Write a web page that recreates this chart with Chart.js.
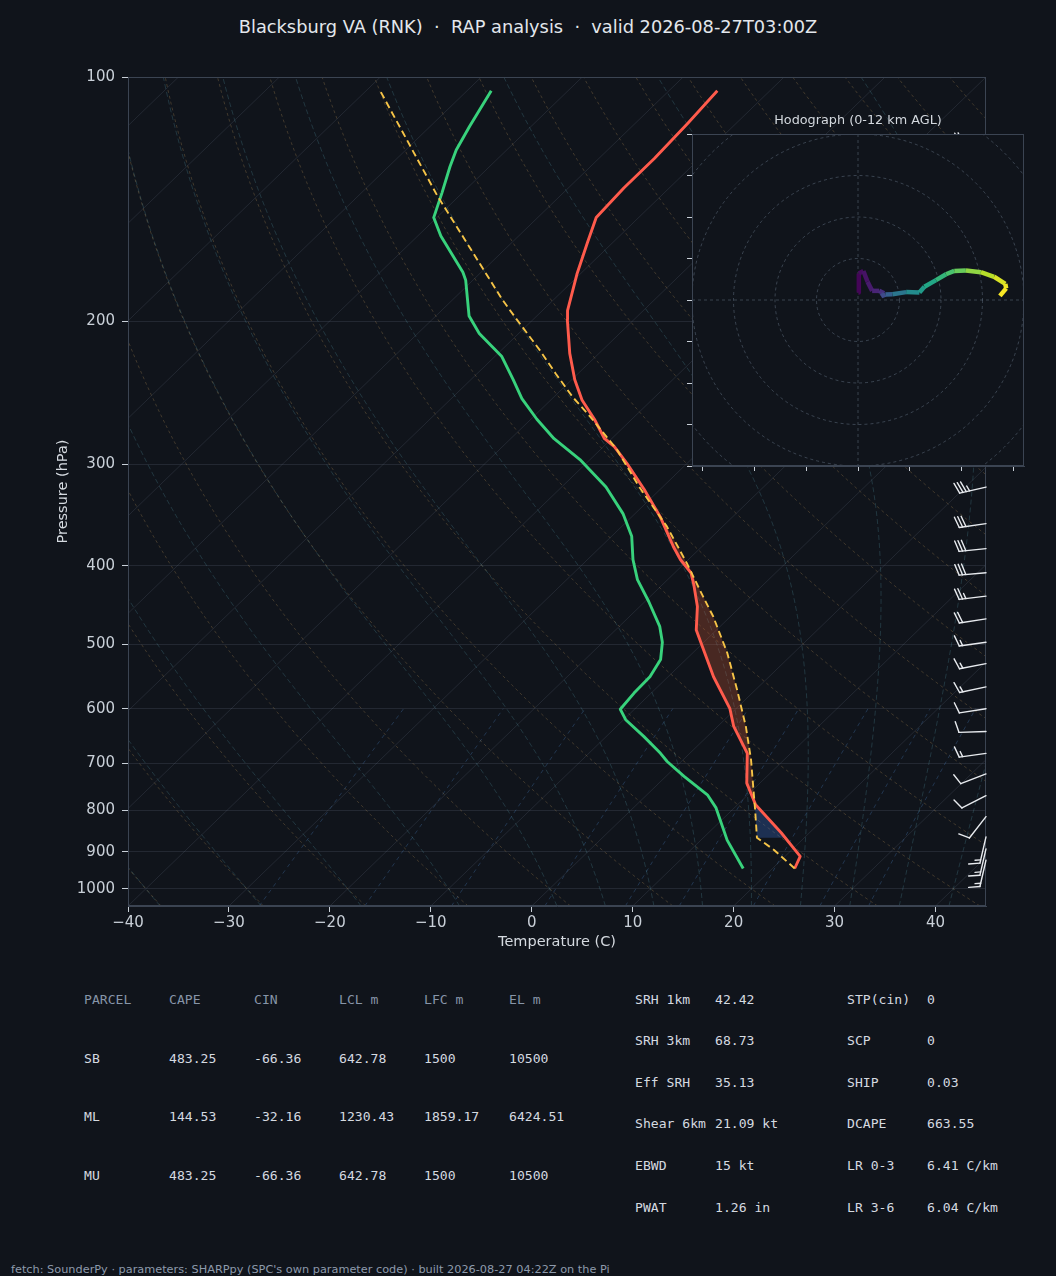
<!DOCTYPE html>
<html><head><meta charset="utf-8"><title>Skew-T Blacksburg VA</title>
<script src="https://cdn.jsdelivr.net/npm/chart.js@4.4.1/dist/chart.umd.min.js"></script>
<style>
html,body{margin:0;padding:0;background:#10141b;}
body{width:1056px;height:1276px;position:relative;overflow:hidden;font-family:"DejaVu Sans",sans-serif;}
canvas{position:absolute;display:block;}
.tx{position:absolute;white-space:pre;line-height:16px;}
.mono{font-family:"DejaVu Sans Mono",monospace;font-size:13.1px;color:#d5dae0;}
.hdr{color:#8795a8;}
</style></head><body>
<div class="tx" style="left:0;top:16px;width:1056px;text-align:center;font-size:17.8px;line-height:22px;color:#e3e7ec">Blacksburg VA (RNK)  ·  RAP analysis  ·  valid 2026-08-27T03:00Z</div>
<canvas id="skew" width="1056" height="960" style="left:0;top:0"></canvas>
<canvas id="hodo" width="372" height="356" style="left:672px;top:124px"></canvas>
<div class="tx" style="left:672px;width:372px;top:112px;text-align:center;font-size:12.8px;color:#d3d8de">Hodograph (0-12 km AGL)</div>
<div id="tables"></div>
<div class="tx" style="left:11px;top:1263px;font-size:11.3px;line-height:14px;color:#8d9aab">fetch: SounderPy · parameters: SHARPpy (SPC's own parameter code) · built 2026-08-27 04:22Z on the Pi</div>
<script>
// ---------------- data ----------------
const XMIN = -40, XMAX = 45, PTOP = 100, PBOT = 1050;
const xTicks = [-40, -30, -20, -10, 0, 10, 20, 30, 40];
const pTicks = [100, 200, 300, 400, 500, 600, 700, 800, 900, 1000];

const tempP = [944, 912, 853, 788, 741, 681, 631, 600, 548, 480, 449, 422, 408, 393, 379, 348, 322, 299, 285, 279, 264, 250, 236, 219, 199, 194, 175, 160, 149, 137, 126, 114, 104];
const tempT = [22.2, 21.5, 17.2, 11.8, 8.7, 5.7, 1.6, -0.6, -5.5, -12.0, -14.3, -16.9, -18.4, -20.8, -22.8, -27.2, -31.6, -36.0, -39.0, -40.7, -43.7, -46.9, -49.7, -52.9, -56.6, -57.5, -60.3, -62.5, -64.2, -64.5, -64.5, -64.8, -65.2];

const dewP = [944, 871, 795, 766, 727, 697, 681, 649, 619, 601, 574, 548, 522, 497, 475, 443, 416, 393, 368, 345, 320, 296, 279, 264, 249, 236, 221, 207, 197, 178, 174, 157, 149, 139, 129, 123, 115, 104];
const dewT = [17.1, 12.6, 8.2, 6.0, 1.8, -1.4, -2.9, -6.3, -9.8, -11.4, -11.7, -11.8, -12.5, -14.1, -16.0, -19.6, -23.0, -25.5, -28.0, -31.2, -35.6, -41.0, -45.7, -49.4, -53.0, -55.8, -59.3, -63.9, -66.7, -70.7, -71.8, -77.7, -80.3, -82.0, -83.9, -85.0, -86.1, -87.6];

const parcelP = [944, 895, 865, 800, 762, 693, 631, 569, 512, 462, 437, 397, 358, 320, 288, 262, 248, 232, 217, 199, 188, 140, 104];
const parcelT = [22.2, 18.2, 15.3, 12.3, 10.4, 6.7, 2.8, -1.8, -6.6, -11.7, -14.7, -19.8, -25.5, -32.3, -38.3, -44.4, -48.1, -52.2, -56.2, -61.6, -65.1, -82.2, -98.6];

const cinLayer = [865, 760];    // hPa: bottom, top of CIN shading
const capeLayer = [790, 250];   // hPa: bottom, top of CAPE shading

const barbP   = [120, 134, 147, 162, 178, 196, 216, 238, 262, 290, 320, 355, 381, 408, 436, 465, 497, 528, 564, 600, 640, 681, 722, 768, 815, 863, 893, 922];
const barbDir = [265, 265, 265, 264, 262, 260, 260, 258, 258, 257, 257, 262, 264, 265, 263, 261, 262, 259, 258, 261, 268, 262, 249, 243, 218, 193, 193, 193];
const barbSpd = [20, 20, 25, 25, 30, 35, 35, 35, 35, 35, 35, 30, 30, 30, 25, 20, 15, 15, 15, 10, 10, 15, 10, 10, 10, 15, 15, 15];

const hodoH = [0, 0.25, 0.5, 0.75, 1.0, 1.4, 1.8, 2.4, 3.0, 4.2, 5.2, 6.2, 6.7, 7.5, 8.2, 8.8, 9.6, 10.4, 11.0, 11.6, 11.8, 12.0];
const hodoU = [0.1, 0.2, 1.3, 2.3, 3.4, 5.1, 6.3, 5.6, 6.6, 8.3, 11.6, 14.8, 16.0, 18.8, 21.2, 23.2, 26.0, 29.6, 32.8, 35.5, 35.7, 34.2];
const hodoV = [1.8, 6.4, 7.0, 4.4, 2.2, 2.2, 1.6, 0.9, 1.3, 1.4, 1.9, 1.8, 3.2, 4.8, 6.2, 7.0, 7.1, 6.7, 5.6, 3.9, 2.8, 1.0];
const hodoXTicks = [-37.5, -25, -12.5, 0, 12.5, 25, 37.5];
const hodoYTicks = [-40, -30, -20, -10, 0, 10, 20, 30, 40];
const hodoRings = [10, 20, 30, 40, 50];

const dryT0 = []; for (let t = -40; t <= 240; t += 10) dryT0.push(t);
const moistT0 = [-40, -30, -20, -10, 0, 5, 10, 15, 20, 25, 30, 35, 40, 45];
const mixW = [0.0004, 0.001, 0.002, 0.004, 0.007, 0.01, 0.016, 0.024, 0.032];

const parcelRows = [
  ['PARCEL', 'CAPE', 'CIN', 'LCL m', 'LFC m', 'EL m'],
  ['SB', '483.25', '-66.36', '642.78', '1500', '10500'],
  ['ML', '144.53', '-32.16', '1230.43', '1859.17', '6424.51'],
  ['MU', '483.25', '-66.36', '642.78', '1500', '10500']
];
const paramRows = [
  ['SRH 1km', '42.42', 'STP(cin)', '0'],
  ['SRH 3km', '68.73', 'SCP', '0'],
  ['Eff SRH', '35.13', 'SHIP', '0.03'],
  ['Shear 6km', '21.09 kt', 'DCAPE', '663.55'],
  ['EBWD', '15 kt', 'LR 0-3', '6.41 C/km'],
  ['PWAT', '1.26 in', 'LR 3-6', '6.04 C/km']
];

// ---------------- styles / helpers ----------------
const BG = '#10141b';
const TICKC = '#c9d0d8';
const SPINE = '#3b4452';
const LNR = Math.log(PBOT / PTOP);
function skew(T, p) { return T + (XMAX - XMIN) * Math.log(PBOT / p) / LNR; }
function pts(P, T) { return P.map((p, i) => ({x: skew(T[i], p), y: p})); }
function interp(P, T, p) {
  if (p >= P[0]) return T[0];
  for (let i = 0; i < P.length - 1; i++) {
    if (p <= P[i] && p >= P[i + 1]) {
      const f = Math.log(p / P[i]) / Math.log(P[i + 1] / P[i]);
      return T[i] + f * (T[i + 1] - T[i]);
    }
  }
  return T[T.length - 1];
}
const bgP = []; for (let i = 0; i <= 60; i++) bgP.push(PBOT * Math.pow(PTOP / PBOT, i / 60));

const Rd = 287.04749, Lv = 2.50084e6, Cp = 1004.6662, EPS = 0.621957;
function esat(TK) { return 6.112 * Math.exp(17.67 * (TK - 273.15) / (TK - 29.65)); }
function dTdp(p, T) {
  const e = esat(T), rs = EPS * e / (p - e);
  return ((Rd * T + Lv * rs) / (Cp + Lv * Lv * rs * EPS / (Rd * T * T))) / p;
}
function moistAt(t0C, p) {
  let T = t0C + 273.15, pc = 1000;
  const n = Math.max(1, Math.ceil(Math.abs(Math.log(p / 1000)) / 0.02));
  const h = (p - 1000) / n;
  for (let k = 0; k < n; k++) {
    const k1 = dTdp(pc, T), k2 = dTdp(pc + h / 2, T + h / 2 * k1), k3 = dTdp(pc + h / 2, T + h / 2 * k2), k4 = dTdp(pc + h, T + h * k3);
    T += h / 6 * (k1 + 2 * k2 + 2 * k3 + k4); pc += h;
  }
  return T - 273.15;
}

const line = (o) => Object.assign({showLine: true, pointRadius: 0, pointHoverRadius: 0, fill: false, tension: 0, borderJoinStyle: 'round'}, o);
const datasets = [];
datasets.push(line({label: 'Parcel', data: pts(parcelP, parcelT), borderColor: '#f6c447', borderWidth: 1.9, borderDash: [7, 4]}));
datasets.push(line({label: 'Temperature', data: pts(tempP, tempT), borderColor: '#ff5b4c', borderWidth: 2.9}));
datasets.push(line({label: 'Dewpoint', data: pts(dewP, dewT), borderColor: '#38d27c', borderWidth: 2.9}));
// isotherms (skewed grid)
for (let t = -130; t <= 40; t += 10) {
  datasets.push(line({data: [{x: skew(t, PBOT), y: PBOT}, {x: skew(t, PTOP), y: PTOP}], borderColor: 'rgba(130,145,165,0.17)', borderWidth: 1}));
}
dryT0.forEach(t0 => {
  datasets.push(line({data: bgP.map(p => ({x: skew((t0 + 273.15) * Math.pow(p / 1000, 0.28571) - 273.15, p), y: p})), borderColor: 'rgba(190,150,90,0.32)', borderWidth: 0.9, borderDash: [3, 3]}));
});
moistT0.forEach(t0 => {
  datasets.push(line({data: bgP.map(p => ({x: skew(moistAt(t0, p), p), y: p})), borderColor: 'rgba(90,160,180,0.28)', borderWidth: 0.9, borderDash: [5, 3]}));
});
const mixP = []; for (let i = 0; i <= 12; i++) mixP.push(PBOT - i * (PBOT - 600) / 12);
mixW.forEach(w => {
  datasets.push(line({data: mixP.map(p => { const e = p * w / (EPS + w), l = Math.log(e / 6.112); return {x: skew(243.5 * l / (17.67 - l), p), y: p}; }), borderColor: 'rgba(80,140,210,0.32)', borderWidth: 0.9, borderDash: [4, 4]}));
});

function shade(chart, layer, leftFn, rightFn, color) {
  const {ctx, chartArea: a, scales: {x, y}} = chart;
  const N = 90, up = [], dn = [];
  for (let k = 0; k <= N; k++) {
    const p = layer[0] * Math.pow(layer[1] / layer[0], k / N);
    const te = interp(tempP, tempT, p), tp = interp(parcelP, parcelT, p);
    up.push([p, rightFn(te, tp)]); dn.push([p, leftFn(te, tp)]);
  }
  ctx.save();
  ctx.beginPath(); ctx.rect(a.left, a.top, a.right - a.left, a.bottom - a.top); ctx.clip();
  ctx.beginPath();
  up.forEach(([p, t], i) => { const X = x.getPixelForValue(skew(t, p)), Y = y.getPixelForValue(p); i ? ctx.lineTo(X, Y) : ctx.moveTo(X, Y); });
  for (let i = dn.length - 1; i >= 0; i--) { const [p, t] = dn[i]; ctx.lineTo(x.getPixelForValue(skew(t, p)), y.getPixelForValue(p)); }
  ctx.closePath(); ctx.fillStyle = color; ctx.fill();
  ctx.restore();
}

const skewPlugin = {
  id: 'skewDeco',
  beforeDatasetDraw(chart, args) {
    if (args.index !== 2) return;
    shade(chart, capeLayer, (te, tp) => te, (te, tp) => Math.max(te, tp), 'rgba(220,95,55,0.28)');
    shade(chart, cinLayer, (te, tp) => tp, (te, tp) => Math.max(te, tp), 'rgba(60,110,200,0.32)');
  },
  afterDatasetsDraw(chart) {
    const {ctx, chartArea: a, scales: {y}} = chart;
    ctx.save();
    ctx.strokeStyle = SPINE; ctx.lineWidth = 1;
    ctx.strokeRect(a.left + 0.5, a.top + 0.5, a.right - a.left - 1, a.bottom - a.top - 1);
    const L = 27, H = 0.4 * L, W = 0.25 * L, S = 0.125 * L;
    ctx.strokeStyle = '#e8ebef'; ctx.fillStyle = '#e8ebef'; ctx.lineWidth = 1.4; ctx.lineCap = 'round';
    barbP.forEach((p, i) => {
      const bx = a.right, by = y.getPixelForValue(p);
      const r = barbDir[i] * Math.PI / 180;
      const d = {x: Math.sin(r), y: -Math.cos(r)}, n = {x: -d.y, y: d.x};
      const tx = bx + d.x * L, ty = by + d.y * L;
      ctx.beginPath(); ctx.moveTo(bx, by); ctx.lineTo(tx, ty); ctx.stroke();
      let s = barbSpd[i];
      const nFlag = Math.floor(s / 50); s -= 50 * nFlag;
      const nFull = Math.floor(s / 10); s -= 10 * nFull;
      const half = s >= 5;
      let off = 0;
      for (let k = 0; k < nFlag; k++) {
        const px = tx - d.x * off, py = ty - d.y * off;
        ctx.beginPath(); ctx.moveTo(px, py);
        ctx.lineTo(px + n.x * H - d.x * W / 2, py + n.y * H - d.y * W / 2);
        ctx.lineTo(px - d.x * W, py - d.y * W); ctx.closePath(); ctx.fill();
        off += W + S / 2;
      }
      for (let k = 0; k < nFull; k++) {
        const px = tx - d.x * off, py = ty - d.y * off;
        ctx.beginPath(); ctx.moveTo(px, py); ctx.lineTo(px + n.x * H + d.x * W / 2, py + n.y * H + d.y * W / 2); ctx.stroke();
        off += S;
      }
      if (half) {
        if (off === 0) off = 1.5 * S;
        const px = tx - d.x * off, py = ty - d.y * off;
        ctx.beginPath(); ctx.moveTo(px, py); ctx.lineTo(px + n.x * H / 2 + d.x * W / 4, py + n.y * H / 2 + d.y * W / 4); ctx.stroke();
      }
    });
    ctx.restore();
  }
};

const tickFont = {family: 'DejaVu Sans', size: 15};
const titleFont = {family: 'DejaVu Sans', size: 14.5};
new Chart(document.getElementById('skew'), {
  type: 'scatter',
  data: {datasets},
  options: {
    responsive: false, animation: false, events: [],
    layout: {padding: {left: 0, top: 77, right: 70, bottom: 5}},
    plugins: {legend: {display: false}, tooltip: {enabled: false}},
    scales: {
      x: {
        type: 'linear', min: XMIN, max: XMAX,
        afterBuildTicks: s => { s.ticks = xTicks.map(v => ({value: v})); },
        afterFit: s => { s.height = 49; },
        ticks: {color: TICKC, font: tickFont, padding: 2, maxRotation: 0, autoSkip: false, callback: v => String(v).replace('-', '\u2212')},
        grid: {drawOnChartArea: false, drawTicks: true, tickLength: 6, tickColor: TICKC, tickWidth: 1},
        border: {display: true, color: SPINE, width: 1},
        title: {display: true, text: 'Temperature (C)', color: '#d5dae0', font: titleFont, padding: {top: 4, bottom: 4}}
      },
      y: {
        type: 'logarithmic', reverse: true, min: PTOP, max: PBOT, position: 'left',
        afterBuildTicks: s => { s.ticks = pTicks.map(v => ({value: v})); },
        afterFit: s => { s.width = 128; },
        ticks: {color: TICKC, font: tickFont, padding: 7, autoSkip: false, callback: v => String(v)},
        grid: {color: 'rgba(130,145,165,0.17)', lineWidth: 1, drawTicks: true, tickLength: 6, tickColor: TICKC, tickWidth: 1},
        border: {display: true, color: SPINE, width: 1},
        title: {display: true, text: 'Pressure (hPa)', color: '#d5dae0', font: titleFont, padding: {top: 55, bottom: 0}}
      }
    }
  },
  plugins: [skewPlugin]
});

// ---------------- hodograph ----------------
const VIR = ['#440154', '#482475', '#414487', '#355f8d', '#2a788e', '#21918c', '#22a884', '#44bf70', '#7ad151', '#bddf26', '#fde725'];
function hx(h) { return [1, 3, 5].map(i => parseInt(h.substr(i, 2), 16)); }
function viridis(t) {
  t = Math.min(1, Math.max(0, t));
  const f = t * 10, i = Math.min(9, Math.floor(f)), r = f - i;
  const a = hx(VIR[i]), b = hx(VIR[i + 1]);
  return 'rgb(' + a.map((c, k) => Math.round(c + (b[k] - c) * r)).join(',') + ')';
}
const hodoPlugin = {
  id: 'hodoDeco',
  beforeDraw(chart) {
    const {ctx, chartArea: a} = chart;
    ctx.save(); ctx.fillStyle = BG; ctx.fillRect(a.left, a.top, a.right - a.left, a.bottom - a.top); ctx.restore();
  },
  beforeDatasetsDraw(chart) {
    const {ctx, chartArea: a, scales: {x, y}} = chart;
    const cx = x.getPixelForValue(0), cy = y.getPixelForValue(0);
    ctx.save();
    ctx.beginPath(); ctx.rect(a.left, a.top, a.right - a.left, a.bottom - a.top); ctx.clip();
    ctx.strokeStyle = 'rgba(120,135,155,0.45)'; ctx.lineWidth = 0.9; ctx.setLineDash([3, 3]);
    hodoRings.forEach(r => {
      const rad = x.getPixelForValue(r) - cx;
      ctx.beginPath(); ctx.arc(cx, cy, rad, 0, Math.PI * 2); ctx.stroke();
    });
    ctx.beginPath(); ctx.moveTo(a.left, cy); ctx.lineTo(a.right, cy); ctx.moveTo(cx, a.top); ctx.lineTo(cx, a.bottom); ctx.stroke();
    ctx.restore();
  },
  afterDraw(chart) {
    const {ctx, chartArea: a} = chart;
    ctx.save(); ctx.strokeStyle = SPINE; ctx.lineWidth = 1;
    ctx.strokeRect(a.left + 0.5, a.top + 0.5, a.right - a.left - 1, a.bottom - a.top - 1); ctx.restore();
  }
};
new Chart(document.getElementById('hodo'), {
  type: 'scatter',
  data: {datasets: [line({
    data: hodoU.map((u, i) => ({x: u, y: hodoV[i]})), borderWidth: 4.5, borderCapStyle: 'butt',
    borderColor: '#21918c',
    segment: {borderColor: c => viridis(((hodoH[c.p0DataIndex] + hodoH[c.p1DataIndex]) / 2) / 12)}
  })]},
  options: {
    responsive: false, animation: false, events: [],
    layout: {padding: {left: 0, top: 10, right: 20, bottom: 0}},
    plugins: {legend: {display: false}, tooltip: {enabled: false}},
    scales: {
      x: {type: 'linear', min: -40, max: 40,
        afterBuildTicks: s => { s.ticks = hodoXTicks.map(v => ({value: v})); },
        afterFit: s => { s.height = 14; },
        ticks: {callback: () => '', autoSkip: false, font: {size: 1}, padding: 0},
        grid: {drawOnChartArea: false, drawTicks: true, tickLength: 5, tickColor: TICKC},
        border: {color: SPINE}},
      y: {type: 'linear', min: -40, max: 40,
        afterBuildTicks: s => { s.ticks = hodoYTicks.map(v => ({value: v})); },
        afterFit: s => { s.width = 20; },
        ticks: {callback: () => '', autoSkip: false, font: {size: 1}, padding: 0},
        grid: {drawOnChartArea: false, drawTicks: true, tickLength: 5, tickColor: TICKC},
        border: {color: SPINE}}
    }
  },
  plugins: [hodoPlugin]
});

// ---------------- tables ----------------
(function () {
  const host = document.getElementById('tables');
  const add = (txt, x, yc, cls) => {
    const d = document.createElement('div');
    d.className = 'tx mono' + (cls ? ' ' + cls : '');
    d.style.left = x + 'px'; d.style.top = (yc - 8) + 'px';
    d.textContent = txt; host.appendChild(d);
  };
  const pc = [84, 169, 254, 339, 424, 509], pr = [1000, 1058.5, 1117.3, 1176];
  parcelRows.forEach((row, r) => row.forEach((c, k) => add(c, pc[k], pr[r], r === 0 ? 'hdr' : '')));
  const qc = [635, 715, 847, 927], qr = [1000, 1041.3, 1082.7, 1124.3, 1165.7, 1207.7];
  paramRows.forEach((row, r) => row.forEach((c, k) => add(c, qc[k], qr[r], '')));
})();
</script>
</body></html>
